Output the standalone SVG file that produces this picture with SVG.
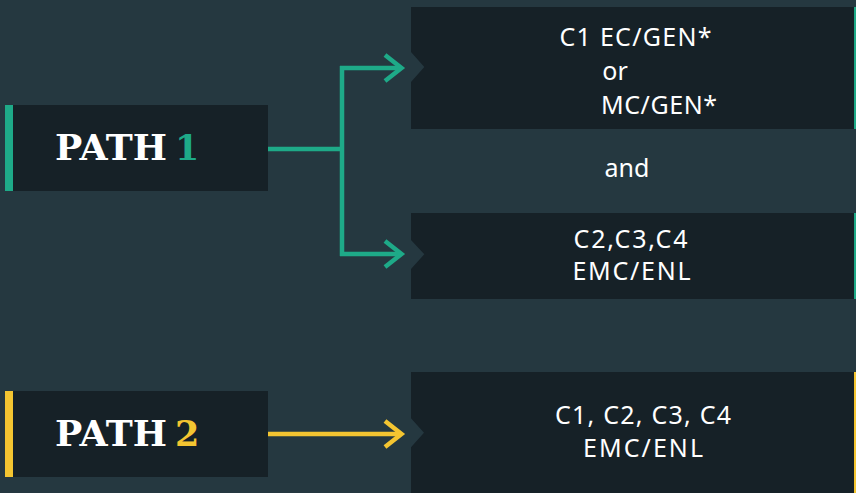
<svg xmlns="http://www.w3.org/2000/svg" width="856" height="493" viewBox="0 0 856 493">
<style>
.bg{fill:#253840}
.box{fill:#162127}
.teal{fill:#1eaa88}
.yel{fill:#f4c531}
.lbl{font-family:"DejaVu Serif","Liberation Serif",serif;font-weight:900;font-size:35px;fill:#ffffff}
.txt{font-family:"Noto Sans","Open Sans",sans-serif;font-size:25px;fill:#ffffff;text-anchor:middle}
.ct{fill:none;stroke:#1eaa88;stroke-width:4.5}
.cy{fill:none;stroke:#f4c531;stroke-width:4.5}
</style>
<rect class="bg" x="0" y="0" width="856" height="493"/>
<g id="path1">
<rect class="box" x="13" y="105" width="255" height="86"/>
<rect class="teal" x="5" y="105" width="8" height="86"/>
<text class="lbl" x="55" y="160" textLength="112" lengthAdjust="spacingAndGlyphs">PATH</text>
<text class="lbl" x="175" y="160" style="fill:#1eaa88">1</text>
</g>
<g id="path2">
<rect class="box" x="13" y="391" width="255" height="86"/>
<rect class="yel" x="5" y="391" width="8" height="86"/>
<text class="lbl" x="55" y="446" textLength="112" lengthAdjust="spacingAndGlyphs">PATH</text>
<text class="lbl" x="175" y="446" style="fill:#f4c531">2</text>
</g>
<g id="box1">
<polygon class="box" points="411,7 854,7 854,129 411,129 411,82 424.3,67 411,52"/>
<rect class="teal" x="854" y="7" width="2" height="122"/>
<text class="txt" x="635.5" y="46" textLength="152">C1 EC/GEN*</text>
<text class="txt" x="615" y="79.5">or</text>
<text class="txt" x="659" y="113.5" textLength="116">MC/GEN*</text>
</g>
<g id="and">
<text class="txt" x="627" y="176.5">and</text>
</g>
<g id="box2">
<polygon class="box" points="411,213 854,213 854,299 411,299 411,269 424.3,254.3 411,240"/>
<rect class="teal" x="854" y="213" width="2" height="86"/>
<text class="txt" x="630.5" y="248" textLength="114">C2,C3,C4</text>
<text class="txt" x="631.5" y="280" textLength="118">EMC/ENL</text>
</g>
<g id="box3">
<polygon class="box" points="411,372 854,372 854,493 411,493 411,447.3 424,432.7 411,418.3"/>
<rect class="yel" x="854" y="372" width="2" height="121"/>
<text class="txt" x="643" y="424" textLength="176">C1, C2, C3, C4</text>
<text class="txt" x="643" y="456.5" textLength="120">EMC/ENL</text>
</g>
<g id="connectors">
<path class="ct" d="M268,149 H342 M342,66 V256 M340,68 H401 M340,254 H401"/>
<polyline class="ct" points="385,55 401.5,68 385,81"/>
<polyline class="ct" points="385,241 401.5,254 385,267"/>
<path class="cy" d="M268,434 H401"/>
<polyline class="cy" points="385,421 401.5,434 385,447"/>
</g>
</svg>
